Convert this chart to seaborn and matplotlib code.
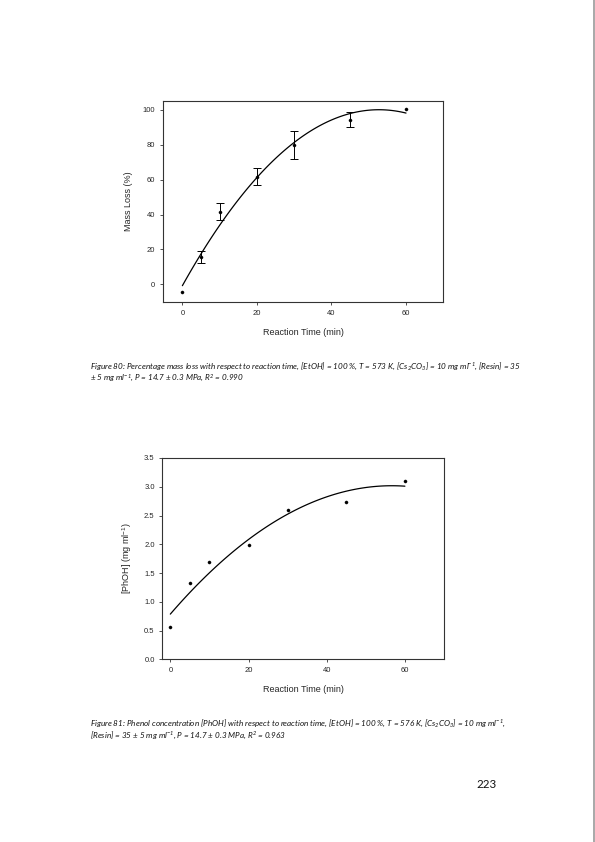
import numpy as np
import pandas as pd
import matplotlib
matplotlib.use("Agg")
import matplotlib.pyplot as plt
import seaborn as sns

# ---- data ----
time_ml = [0, 5, 10, 20, 30, 45, 60]
mass_loss = [-4.2, 15.6, 41.6, 61.6, 79.8, 94.3, 100.2]
mass_err = [0, 3.4, 4.8, 4.9, 8.2, 4.4, 0]

time_ph = [0, 5, 10, 20, 30, 45, 60]
phoh = [0.556, 1.32, 1.70, 1.98, 2.595, 2.74, 3.10]

x_ticks = [0, 20, 40, 60]
y_ticks_ml = [0, 20, 40, 60, 80, 100]
y_ticks_ph = [0.0, 0.5, 1.0, 1.5, 2.0, 2.5, 3.0, 3.5]

cap80_l1 = (r"Figure 80: Percentage mass loss with respect to reaction time, [EtOH] = 100 %, T = 573 K, "
            r"[Cs$_2$CO$_3$] = 10 mg ml$^{-1}$, [Resin] = 35")
cap80_l2 = r"± 5 mg ml$^{-1}$, P = 14.7 ± 0.3 MPa, R$^2$ = 0.990"
cap81_l1 = (r"Figure 81: Phenol concentration [PhOH] with respect to reaction time, [EtOH] = 100 %, T = 576 K, "
            r"[Cs$_2$CO$_3$] = 10 mg ml$^{-1}$,")
cap81_l2 = r"[Resin] = 35 ± 5 mg ml$^{-1}$, P = 14.7 ± 0.3 MPa, R$^2$ = 0.963"
page_no = "223"

sns.set_theme(style="white")
plt.rcParams['font.family'] = ['Liberation Sans', 'DejaVu Sans']
plt.rcParams['mathtext.fontset'] = 'custom'
plt.rcParams['mathtext.rm'] = 'Lato:italic'
plt.rcParams['mathtext.it'] = 'Lato:italic'

W, H = 595, 842
fig = plt.figure(figsize=(W / 100, H / 100), dpi=100)
fig.patch.set_facecolor('white')

def px_axes(left, top, right, bottom):
    return fig.add_axes([left / W, 1 - bottom / H, (right - left) / W, (bottom - top) / H])

def style_ax(ax):
    for s in ax.spines.values():
        s.set_visible(True)
        s.set_color('#333333')
        s.set_linewidth(0.8)
    ax.tick_params(axis='both', which='both', direction='out', length=2.5, width=0.6,
                   color='#333333', labelsize=5.5, pad=3, bottom=True, left=True,
                   top=False, right=False)
    ax.grid(False)

# ---- top chart ----
ax1 = px_axes(163, 101, 443.3, 302)
df1 = pd.DataFrame({'t': time_ml, 'm': mass_loss, 'e': mass_err})
sns.regplot(data=df1, x='t', y='m', order=2, ci=None, scatter=False, ax=ax1,
            line_kws=dict(color='black', lw=0.9))
ax1.errorbar(df1['t'][1:6], df1['m'][1:6], yerr=df1['e'][1:6], fmt='none',
             ecolor='black', elinewidth=0.7, capsize=2.8, capthick=0.7)
sns.scatterplot(data=df1, x='t', y='m', ax=ax1, color='black', s=5, edgecolor='black',
                linewidth=0.3, zorder=5)
ax1.set_xlim(-5.2, 70)
ax1.set_ylim(-10.1, 105)
ax1.set_xticks(x_ticks)
ax1.set_yticks(y_ticks_ml)
ax1.set_xlabel('Reaction Time (min)', fontsize=6.5, labelpad=8)
ax1.set_ylabel('Mass Loss (%)', fontsize=6.5, labelpad=7)
style_ax(ax1)

# ---- bottom chart ----
ax2 = px_axes(162.3, 458, 444, 659.3)
df2 = pd.DataFrame({'t': time_ph, 'c': phoh})
sns.regplot(data=df2, x='t', y='c', order=2, ci=None, scatter=False, ax=ax2,
            line_kws=dict(color='black', lw=0.9))
sns.scatterplot(data=df2, x='t', y='c', ax=ax2, color='black', s=5, edgecolor='black',
                linewidth=0.3, zorder=5)
ax2.set_xlim(-2.05, 70)
ax2.set_ylim(0, 3.5)
ax2.set_xticks(x_ticks)
ax2.set_yticks(y_ticks_ph)
ax2.set_yticklabels([f"{v:.1f}" for v in y_ticks_ph])
ax2.set_xlabel('Reaction Time (min)', fontsize=6.5, labelpad=8)
ax2.set_ylabel('[PhOH] (mg ml$^{\\mathregular{-1}}$)', fontsize=6.5, labelpad=7)
style_ax(ax2)

# ---- captions ----
cap_kw = dict(fontsize=5.85, style='italic', family=['Lato', 'DejaVu Sans'],
              ha='left', va='center', color='#111111')
fig.text(90 / W, 1 - 366 / H, cap80_l1, **cap_kw)
fig.text(90 / W, 1 - 378.5 / H, cap80_l2, **cap_kw)
fig.text(90 / W, 1 - 723 / H, cap81_l1, **cap_kw)
fig.text(90 / W, 1 - 735.5 / H, cap81_l2, **cap_kw)
fig.text(497 / W, 1 - 785 / H, page_no, fontsize=8.3, family=['Lato', 'DejaVu Sans'],
         ha='right', va='center', color='#111111')

# page edge line
fig.add_artist(plt.Line2D([594 / W, 594 / W], [0, 1], transform=fig.transFigure,
                          color='#999999', lw=1.2))

fig.savefig('out.png', dpi=100, facecolor='white')
